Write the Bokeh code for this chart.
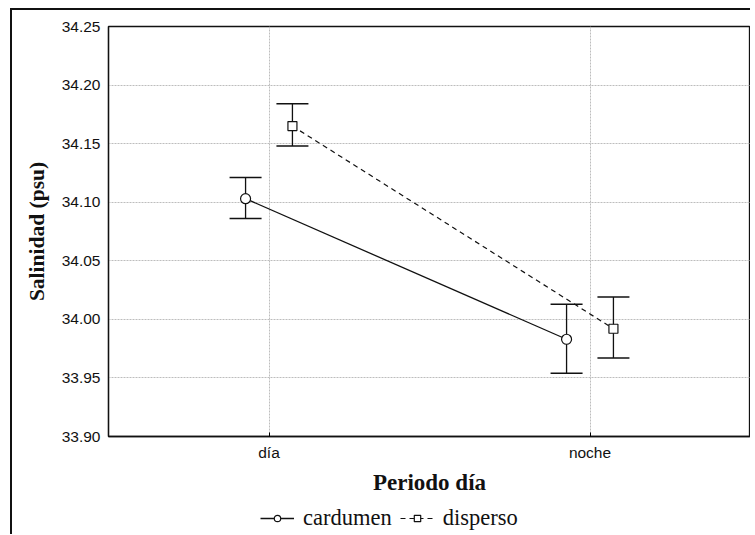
from bokeh.plotting import figure
from bokeh.layouts import column
from bokeh.models import (ColumnDataSource, Whisker, TeeHead, FixedTicker, Legend,
                          LegendItem, FactorRange, NumeralTickFormatter, Range1d)
from bokeh.transform import dodge
from bokeh.embed import file_html
from bokeh.resources import INLINE

periods = ["día", "noche"]
cardumen_mean = [34.103, 33.983]
cardumen_upper = [34.121, 34.013]
cardumen_lower = [34.086, 33.954]
disperso_mean = [34.165, 33.992]
disperso_upper = [34.184, 34.019]
disperso_lower = [34.148, 33.967]
y_ticks = [33.90, 33.95, 34.00, 34.05, 34.10, 34.15, 34.20, 34.25]
series_names = ["cardumen", "disperso"]

src_c = ColumnDataSource(dict(x=periods, y=cardumen_mean, up=cardumen_upper, lo=cardumen_lower))
src_d = ColumnDataSource(dict(x=periods, y=disperso_mean, up=disperso_upper, lo=disperso_lower))

p = figure(x_range=FactorRange(*periods, range_padding=0), y_range=(33.90, 34.25),
           frame_width=642, frame_height=410, output_backend="svg", toolbar_location=None,
           min_border_left=96, min_border_top=16, min_border_right=0, min_border_bottom=70)

p.outline_line_color = "#111111"
p.outline_line_width = 1.3

off = 0.073
xc = dodge("x", -off, range=p.x_range)
xd = dodge("x", off, range=p.x_range)

for src, xx in ((src_c, xc), (src_d, xd)):
    w = Whisker(source=src, base=xx, upper="up", lower="lo", dimension="height",
                line_color="#111111", line_width=1.3,
                upper_head=TeeHead(size=32, line_color="#111111", line_width=1.5),
                lower_head=TeeHead(size=32, line_color="#111111", line_width=1.5))
    p.add_layout(w)

line_c = dict(line_color="#111111", line_width=1.3)
line_d = dict(line_color="#111111", line_width=1.2, line_dash="5 4")
mark_c = dict(marker="circle", size=10, fill_color="white", line_color="#111111", line_width=1.2)
mark_d = dict(marker="square", size=9, fill_color="white", line_color="#111111", line_width=1.2)

p.line(x=xc, y="y", source=src_c, **line_c)
p.scatter(x=xc, y="y", source=src_c, **mark_c)
p.line(x=xd, y="y", source=src_d, **line_d)
p.scatter(x=xd, y="y", source=src_d, **mark_d)

p.yaxis.ticker = FixedTicker(ticks=y_ticks)
p.yaxis.formatter = NumeralTickFormatter(format="0.00")
p.yaxis.major_tick_out = 0
p.yaxis.major_tick_in = 0
p.yaxis.minor_tick_out = 0
p.yaxis.minor_tick_in = 0
p.xaxis.major_tick_out = 0
p.xaxis.major_tick_in = 4

for ax in (p.xaxis[0], p.yaxis[0]):
    ax.axis_line_color = "#111111"
    ax.axis_line_width = 1.3
    ax.major_label_text_font = "Liberation Sans"
    ax.major_label_text_font_size = "15.5px"
    ax.major_label_text_color = "#111111"
    ax.axis_label_text_font = "Liberation Serif"
    ax.axis_label_text_font_style = "bold"
    ax.axis_label_text_color = "#111111"

p.xaxis.axis_label_text_font_size = "23px"
p.yaxis.axis_label_text_font_size = "21.5px"
p.yaxis.axis_label = "Salinidad (psu)"
p.xaxis.axis_label = "Periodo día"
p.yaxis.major_label_standoff = 8
p.yaxis.axis_label_standoff = 10
p.xaxis.major_label_standoff = 7
p.xaxis.axis_label_standoff = 6

p.grid.grid_line_color = "#bdbdbd"
p.grid.grid_line_dash = "2 1"
p.grid.grid_line_width = 1

# legend strip: same series drawn out of view, only the legend shows
lp = figure(x_range=p.x_range, y_range=Range1d(0, 1), frame_width=642, frame_height=28,
            output_backend="svg", toolbar_location=None, x_axis_location=None,
            y_axis_location=None, min_border_left=96, min_border_top=0,
            min_border_right=0, min_border_bottom=0)
lp.outline_line_color = None
lp.grid.visible = False
lc = lp.line(x=xc, y="y", source=src_c, **line_c)
mc = lp.scatter(x=xc, y="y", source=src_c, **mark_c)
ld = lp.line(x=xd, y="y", source=src_d, **line_d)
md = lp.scatter(x=xd, y="y", source=src_d, **mark_d)

legend = Legend(items=[LegendItem(label=series_names[0], renderers=[lc, mc]),
                       LegendItem(label=series_names[1], renderers=[ld, md])],
                orientation="horizontal", location=(152, 3),
                label_text_font="Liberation Serif", label_text_font_size="22.5px",
                label_text_color="#111111", border_line_color=None,
                background_fill_alpha=0, glyph_width=34, glyph_height=16,
                label_standoff=9, spacing=8, padding=0, margin=0, label_height=20)
lp.add_layout(legend)

layout = column(p, lp, spacing=0)
layout.styles = {"border-left": "2px solid #111", "border-top": "2px solid #111",
                 "margin-left": "10px", "margin-top": "8px"}

open("out.html", "w").write(file_html(layout, INLINE))
